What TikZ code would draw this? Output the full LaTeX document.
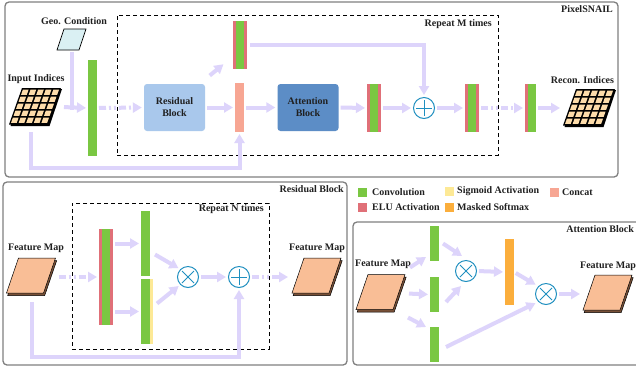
\documentclass[tikz,border=0pt]{standalone}
\usepackage{fontspec}
\setmainfont{Liberation Serif}
\usetikzlibrary{arrows.meta,calc}
\definecolor{cgreen}{RGB}{122,199,66}
\definecolor{celu}{RGB}{224,112,120}
\definecolor{cconcat}{RGB}{247,166,147}
\definecolor{cyellow}{RGB}{253,233,150}
\definecolor{corange}{RGB}{251,174,60}
\definecolor{cres}{RGB}{169,200,236}
\definecolor{catt}{RGB}{92,141,198}
\definecolor{cgeo}{RGB}{218,240,243}
\definecolor{cfm}{RGB}{249,190,150}
\definecolor{cfmshadow}{RGB}{120,80,55}
\definecolor{ctile}{RGB}{253,220,170}
\definecolor{carrow}{RGB}{221,212,251}
\definecolor{cop}{RGB}{31,143,192}
\definecolor{cpanel}{RGB}{128,128,128}
\definecolor{ctext}{RGB}{32,32,32}
\tikzset{
  lbl/.style={font=\bfseries\fontsize{10}{12}\selectfont, text=ctext, inner sep=0pt},
  panel/.style={draw=cpanel, line width=1.3pt, rounded corners=4pt, inner sep=0pt},
  repbox/.style={draw=black, line width=1pt, dash pattern=on 4pt off 3pt, inner sep=0pt},
  bar/.style={inner sep=0pt, outer sep=0pt, minimum width=#1},
  bar/.default=9pt,
  convbar/.style={bar, fill=cgreen},
  elubar/.style={bar=14pt, fill=cgreen, path picture={
      \fill[celu] (path picture bounding box.north west) rectangle ([xshift=3pt]path picture bounding box.south west);
      \fill[celu] (path picture bounding box.north east) rectangle ([xshift=-3pt]path picture bounding box.south east);}},
  eluleft/.style={bar=11pt, fill=cgreen, path picture={
      \fill[celu] (path picture bounding box.north west) rectangle ([xshift=3pt]path picture bounding box.south west);}},
  sigbar/.style={bar=12pt, fill=cgreen, path picture={
      \fill[cyellow] (path picture bounding box.north east) rectangle ([xshift=-3pt]path picture bounding box.south east);}},
  block/.style={lbl, rounded corners=3pt, minimum width=61pt, minimum height=47pt, align=center},
  opnode/.style={circle, draw=cop, line width=1pt, minimum size=21pt, inner sep=0pt},
  plusop/.style={opnode, path picture={
      \draw[cop, line width=1pt] ([xshift=-8pt]path picture bounding box.center) -- ([xshift=8pt]path picture bounding box.center);
      \draw[cop, line width=1pt] ([yshift=-8pt]path picture bounding box.center) -- ([yshift=8pt]path picture bounding box.center);}},
  timesop/.style={opnode, path picture={
      \draw[cop, line width=1pt] ([shift={(-6pt,-6pt)}]path picture bounding box.center) -- ([shift={(6pt,6pt)}]path picture bounding box.center);
      \draw[cop, line width=1pt] ([shift={(-6pt,6pt)}]path picture bounding box.center) -- ([shift={(6pt,-6pt)}]path picture bounding box.center);}},
  iconbox/.style={inner sep=0pt, outer sep=0pt},
  arr/.style={draw=carrow, line width=4pt, -{Triangle[length=9pt,width=10pt]}, shorten <=2pt, shorten >=2pt},
  arrline/.style={draw=carrow, line width=4pt},
  darr/.style={arr, dash pattern=on 7pt off 3pt on 2pt off 3pt on 2pt off 3pt},
  legsq/.style={minimum size=9pt, inner sep=0pt},
}
\newcommand\drawfeat[1]{%
  \begin{scope}[shift={(#1.south west)}, x={(1pt,0pt)}, y={(0pt,1pt)}]
    \filldraw[fill=cfmshadow, draw=black, line width=0.5pt] (1.2,0.5) -- (38.2,0.5) -- (50.2,35.5) -- (13.2,35.5) -- cycle;
    \filldraw[fill=cfm, draw=black, line width=0.5pt] (0,3) -- (37,3) -- (49,38) -- (12,38) -- cycle;
  \end{scope}}
\newcommand\drawgrid[1]{%
  \begin{scope}[shift={(#1.south west)}, x={(1pt,0pt)}, y={(0pt,1pt)}]
    \fill[black] (1.5,0) -- (40.5,0) -- (53,37) -- (14.5,37) -- cycle;
    \fill[black] (0,1.5) -- (39,1.5) -- (52,38) -- (13,38) -- cycle;
  \end{scope}
  \begin{scope}[shift={(#1.south west)}, shift={(0.5pt,2pt)}, x={(38pt,0pt)}, y={(12.5pt,35pt)}]
    \foreach \i in {0,...,4}{\foreach \j in {0,...,4}{
      \fill[ctile] ({\i*0.2+0.03},{\j*0.2+0.03}) -- ++(0.15,0) -- ++(0,0.15) -- ++(-0.15,0) -- cycle;}}
  \end{scope}}
\newcommand\drawgeo[1]{%
  \begin{scope}[shift={(#1.south west)}, x={(1pt,0pt)}, y={(0pt,1pt)}]
    \filldraw[fill=cgeo, draw=black, line width=0.7pt] (0,0) -- (22,0) -- (29,21) -- (7,21) -- cycle;
  \end{scope}}
\begin{document}
\begin{tikzpicture}[x=1pt, y=-1pt]
\useasboundingbox (0,0) rectangle (636,368);
\clip (0,0) rectangle (636,368);
\fill[white] (0,0) rectangle (636,368);

% ---------- panels ----------
\node[panel, minimum width=613pt, minimum height=175pt] (P1) at (311.5,89.5) {};
\node[lbl, anchor=east] (P1lbl) at (613,9) {PixelSNAIL};
\node[repbox, minimum width=381pt, minimum height=140pt] (RM) at (307.5,85) {};
\node[lbl, anchor=east] (RMlbl) at (492,24) {Repeat M times};

\node[panel, minimum width=344pt, minimum height=183pt] (P2) at (175,273.5) {};
\node[lbl, anchor=east] (P2lbl) at (344,189) {Residual Block};
\node[repbox, minimum width=197pt, minimum height=146pt] (RN) at (170.5,276) {};
\node[lbl, anchor=east] (RNlbl) at (264,209) {Repeat N times};

\node[panel, minimum width=300pt, minimum height=143pt] (P3) at (503,293.5) {};
\node[lbl, anchor=east] (P3lbl) at (634,229) {Attention Block};

% ---------- legend ----------
\node[legsq, fill=cgreen] (L1) at (362.5,192) {};
\node[lbl, anchor=west] (L1t) at (372,192) {Convolution};
\node[legsq, fill=celu] (L2) at (362.5,207) {};
\node[lbl, anchor=west] (L2t) at (372,207) {ELU Activation};
\node[legsq, fill=cyellow] (L3) at (449,191) {};
\node[lbl, anchor=west] (L3t) at (457,191) {Sigmoid Activation};
\node[legsq, fill=corange] (L4) at (449,207) {};
\node[lbl, anchor=west] (L4t) at (457,207) {Masked Softmax};
\node[legsq, fill=cconcat] (L5) at (554,192) {};
\node[lbl, anchor=west] (L5t) at (562,192) {Concat};

% ---------- top: PixelSNAIL ----------
\node[lbl] (geolbl) at (74,21) {Geo. Condition};
\node[iconbox, minimum width=29pt, minimum height=21pt] (geo) at (71.5,39.5) {};
\drawgeo{geo}
\node[lbl] (inlbl) at (36,79) {Input Indices};
\node[iconbox, minimum width=53pt, minimum height=38pt] (gridA) at (35.5,107) {};
\drawgrid{gridA}
\node[convbar, minimum height=96pt] (conv1) at (92.5,108) {};
\node[block, fill=cres] (res) at (174.5,107.5) {Residual\\Block};
\node[elubar, minimum height=48pt] (bar1) at (240,45) {};
\node[bar, fill=cconcat, minimum height=49pt] (concat) at (239.5,107.5) {};
\node[block, fill=catt] (att) at (308,107.5) {Attention\\Block};
\node[elubar, minimum height=48pt] (bar2) at (374,108) {};
\node[plusop] (plusM) at (424,108) {};
\node[elubar, minimum height=48pt] (bar3) at (472,108) {};
\node[eluleft, minimum height=48pt] (bar4) at (530.5,108) {};
\node[lbl] (outlbl) at (582.5,80) {Recon. Indices};
\node[iconbox, minimum width=53pt, minimum height=38pt] (gridB) at (589.5,108) {};
\drawgrid{gridB}

\coordinate (loopA) at (0,168);
\draw[arrline] ([yshift=-2pt]geo.south) -- ([yshift=-2pt]geo.south |- conv1.center);
\draw[arr] (gridA.east) -- (conv1.west);
\draw[darr] (conv1.east) -- (res.west);
\draw[arr] (res.east) -- (concat.west);
\draw[arr] ([shift={(3pt,7pt)}]res.north east) -- ([shift={(-8pt,6pt)}]bar1.south west);
\draw[arr, shorten <=3pt] (bar1.east) -| (plusM.north);
\draw[arr] (concat.east) -- (att.west);
\draw[arr] (att.east) -- (bar2.west);
\draw[arr] (bar2.east) -- (plusM.west);
\draw[arr] (plusM.east) -- (bar3.west);
\draw[darr] (bar3.east) -- (bar4.west);
\draw[arr] (bar4.east) -- ([xshift=-1pt]gridB.west);
\draw[arr, shorten <=0pt] ([xshift=-5pt,yshift=-6pt]gridA.south) |- (concat.south |- loopA) -- (concat.south);

% ---------- residual block ----------
\node[lbl] (fm1lbl) at (36,248) {Feature Map};
\node[iconbox, minimum width=51pt, minimum height=38pt] (fm1) at (32,277) {};
\drawfeat{fm1}
\node[elubar, minimum height=96pt] (barR) at (106,277) {};
\node[convbar, minimum height=65pt] (convU) at (145.5,243.5) {};
\node[sigbar, minimum height=65pt] (convL) at (147,311.5) {};
\node[timesop] (timesR) at (188,277) {};
\node[plusop] (plusR) at (239,277) {};
\node[lbl] (fm2lbl) at (317,248) {Feature Map};
\node[iconbox, minimum width=51pt, minimum height=38pt] (fm2) at (317.5,277) {};
\drawfeat{fm2}
\coordinate (loopB) at (0,357);

\draw[darr, shorten <=1pt] (fm1.east) -- (barR.west);
\draw[arr] (barR.east |- convU.west) -- (convU.west);
\draw[arr] (barR.east |- convL.west) -- (convL.west);
\draw[arr, shorten <=0pt] ([shift={(5pt,-11pt)}]convU.east) -- (timesR.135);
\draw[arr, shorten <=0pt] ([shift={(4pt,8pt)}]convL.east) -- (timesR.225);
\draw[arr] (timesR.east) -- (plusR.west);
\draw[darr, shorten >=4pt] (plusR.east) -- (fm2.west);
\draw[arr, shorten <=0pt] ([yshift=-6pt]fm1.south) |- (plusR.south |- loopB) -- (plusR.south);

% ---------- attention block ----------
\node[lbl] (fm3lbl) at (383,264) {Feature Map};
\node[iconbox, minimum width=51pt, minimum height=38pt] (fm3) at (381.5,293.5) {};
\drawfeat{fm3}
\node[convbar, minimum height=35pt] (A1) at (434.5,243.5) {};
\node[convbar, minimum height=35pt] (A2) at (434.5,294.5) {};
\node[convbar, minimum height=35pt] (A3) at (434.5,344.5) {};
\node[timesop] (times1) at (466,271) {};
\node[bar, fill=corange, minimum height=66pt] (orange) at (509.5,272) {};
\node[timesop] (times2) at (546,294) {};
\node[lbl] (fm4lbl) at (608,266) {Feature Map};
\node[iconbox, minimum width=51pt, minimum height=38pt] (fm4) at (608.5,294) {};
\drawfeat{fm4}

\draw[arr, shorten <=0pt, shorten >=0pt] ([shift={(3pt,7pt)}]fm3.north east) -- ([shift={(-4pt,4pt)}]A1.south west);
\draw[arr] (fm3.east) -- (A2.west);
\draw[arr, shorten <=0pt, shorten >=0pt] ([shift={(1pt,-5pt)}]fm3.south east) -- ([xshift=-4pt]A3.north west);
\draw[arr, shorten <=0pt, shorten >=0pt] ([shift={(4pt,0pt)}]A1.east) -- ([shift={(-4pt,4pt)}]times1.north);
\draw[arr, shorten <=0pt, shorten >=0pt] ([shift={(7pt,-7.5pt)}]A2.east) -- ([shift={(-5pt,-4pt)}]times1.south);
\draw[arr] (times1.east) -- (orange.west);
\draw[arr, shorten >=3pt] (orange.east) -- (times2.north west);
\draw[arr, shorten <=0pt, shorten >=3pt] ([shift={(7pt,-2.5pt)}]A3.east) -- (times2.south west);
\draw[arr] (times2.east) -- ([xshift=-1pt]fm4.west);
\end{tikzpicture}
\end{document}
